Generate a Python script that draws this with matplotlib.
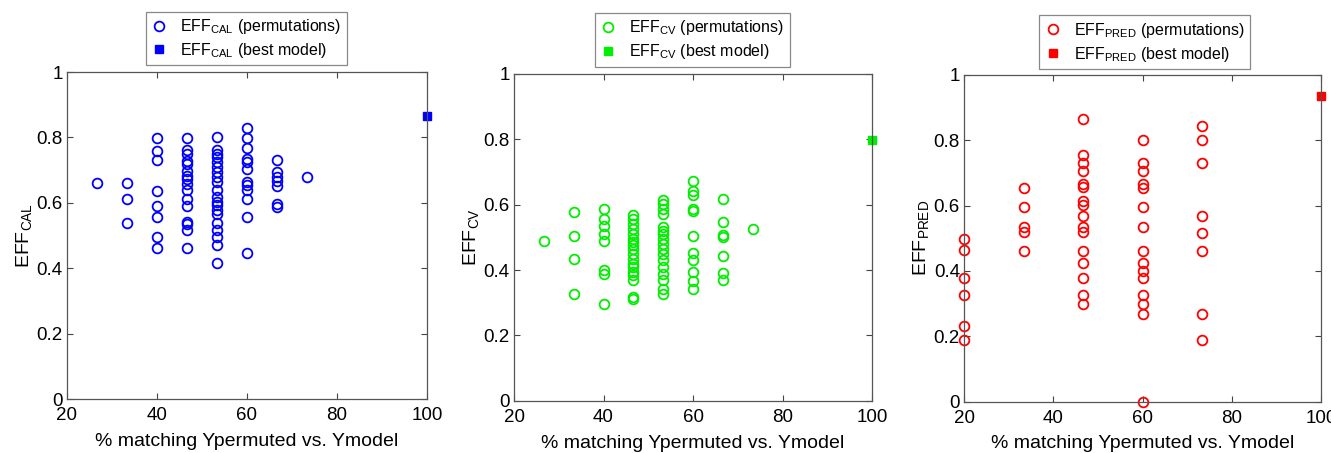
import numpy as np
import matplotlib
matplotlib.use("Agg")
import matplotlib.pyplot as plt

plt.rcParams["font.family"] = ["Liberation Sans", "DejaVu Sans"]
plt.rcParams["mathtext.fontset"] = "custom"
plt.rcParams["mathtext.rm"] = "Liberation Sans"

# % matching levels (15 objects -> multiples of 6.67 %)
P27, P33, P40, P47, P53, P60, P67, P73 = 26.67, 33.33, 40.0, 46.67, 53.33, 60.0, 66.67, 73.33

# EFF_CAL permutations
cal_x = ([P27] + [P33] * 3 + [P40] * 8 + [P47] * 16 + [P53] * 20
         + [P60] * 12 + [P67] * 7 + [P73])
cal_y = [0.66,
         0.66, 0.612, 0.537,
         0.798, 0.760, 0.730, 0.637, 0.589, 0.558, 0.495, 0.462,
         0.798, 0.761, 0.749, 0.729, 0.719, 0.698, 0.683, 0.673, 0.658, 0.638,
         0.612, 0.589, 0.541, 0.536, 0.516, 0.462,
         0.800, 0.761, 0.749, 0.739, 0.724, 0.709, 0.693, 0.680, 0.663, 0.638,
         0.617, 0.602, 0.592, 0.577, 0.567, 0.538, 0.516, 0.495, 0.470, 0.416,
         0.828, 0.797, 0.767, 0.733, 0.724, 0.704, 0.663, 0.656, 0.638, 0.612,
         0.558, 0.447,
         0.731, 0.693, 0.678, 0.666, 0.651, 0.597, 0.587,
         0.680]
cal_best = (100.0, 0.865)

# EFF_CV permutations
cv_x = ([P27] + [P33] * 4 + [P40] * 8 + [P47] * 18 + [P53] * 17
        + [P60] * 11 + [P67] * 7 + [P73])
cv_y = [0.488,
        0.577, 0.505, 0.433, 0.328,
        0.586, 0.557, 0.534, 0.511, 0.488, 0.399, 0.387, 0.297,
        0.567, 0.557, 0.542, 0.526, 0.511, 0.496, 0.486, 0.476, 0.465, 0.450,
        0.435, 0.420, 0.409, 0.394, 0.384, 0.369, 0.318, 0.313,
        0.615, 0.603, 0.588, 0.572, 0.532, 0.521, 0.511, 0.496, 0.481, 0.465,
        0.450, 0.430, 0.409, 0.389, 0.369, 0.343, 0.328,
        0.671, 0.642, 0.631, 0.588, 0.582, 0.505, 0.452, 0.430, 0.394, 0.367,
        0.342,
        0.616, 0.546, 0.507, 0.501, 0.444, 0.392, 0.369,
        0.525]
cv_best = (100.0, 0.797)

# EFF_PRED permutations
pred_x = ([20.0] * 6 + [P33] * 5 + [P47] * 16 + [P60] * 15 + [P73] * 8)
pred_y = [0.498, 0.463, 0.378, 0.327, 0.231, 0.189,
          0.654, 0.597, 0.535, 0.518, 0.462,
          0.866, 0.756, 0.731, 0.706, 0.667, 0.658, 0.613, 0.601, 0.567, 0.535,
          0.518, 0.462, 0.423, 0.378, 0.327, 0.298,
          0.800, 0.731, 0.706, 0.667, 0.654, 0.597, 0.535, 0.462, 0.423, 0.401,
          0.378, 0.327, 0.298, 0.267, 0.0,
          0.844, 0.800, 0.731, 0.567, 0.516, 0.462, 0.267, 0.188]
pred_best = (100.0, 0.935)

panels = [
    ("CAL", cal_x, cal_y, cal_best, "#0000ff",
     [0.0503, 0.119, 0.2705, 0.722], (0.185, 0.915)),
    ("CV", cv_x, cv_y, cv_best, "#00ee00",
     [0.3862, 0.115, 0.2690, 0.722], (0.520, 0.912)),
    ("PRED", pred_x, pred_y, pred_best, "#ff0000",
     [0.7243, 0.113, 0.2682, 0.722], (0.860, 0.907)),
]

fig = plt.figure(figsize=(13.31, 4.53), dpi=100)
for name, xs, ys, best, color, rect, leg_pos in panels:
    ax = fig.add_axes(rect)
    sub = r"$_{\mathregular{%s}}$" % name
    ax.plot(xs, ys, "o", ls="none", mfc="none", mec=color, ms=7.0, mew=1.3,
            clip_on=False, label="EFF" + sub + " (permutations)")
    ax.plot([best[0]], [best[1]], "s", ls="none", mfc=color, mec=color,
            ms=5.5, clip_on=False, label="EFF" + sub + " (best model)")
    ax.set_xlim(20, 100)
    ax.set_ylim(0, 1)
    ax.set_xticks([20, 40, 60, 80, 100])
    ax.set_yticks([0, 0.2, 0.4, 0.6, 0.8, 1])
    ax.set_yticklabels(["0", "0.2", "0.4", "0.6", "0.8", "1"])
    ax.tick_params(direction="in", top=True, right=True, length=4,
                   width=0.8, color="#444444", labelsize=13.5, pad=3)
    ax.tick_params(axis="x", pad=6)
    for sp in ax.spines.values():
        sp.set_color("#555555")
        sp.set_linewidth(0.9)
    ax.set_xlabel("% matching Ypermuted vs. Ymodel", fontsize=14, labelpad=6)
    ax.set_ylabel("EFF" + sub, fontsize=14, labelpad=1)
    leg = ax.legend(loc="center", bbox_to_anchor=leg_pos,
                    bbox_transform=fig.transFigure, fontsize=11.5,
                    fancybox=False, framealpha=1, edgecolor="#888888",
                    handlelength=1.0, handletextpad=0.8, borderpad=0.35,
                    labelspacing=0.3)
    leg.get_frame().set_linewidth(0.9)
    leg.set_zorder(5)

fig.savefig("out.png", dpi=100)
